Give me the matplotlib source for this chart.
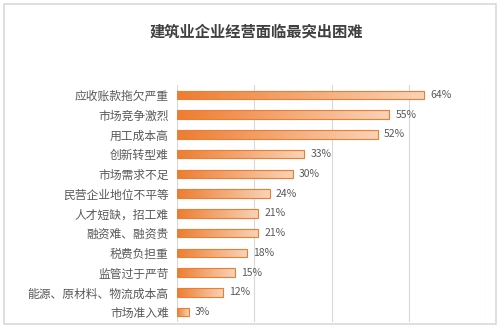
import numpy as np
import matplotlib.pyplot as plt
from matplotlib.colors import LinearSegmentedColormap
from matplotlib.patches import Rectangle

plt.rcParams['font.family'] = ['Noto Sans CJK SC', 'DejaVu Sans']

categories = ["应收账款拖欠严重", "市场竞争激烈", "用工成本高", "创新转型难", "市场需求不足",
              "民营企业地位不平等", "人才短缺，招工难", "融资难、融资贵", "税费负担重",
              "监管过于严苛", "能源、原材料、物流成本高", "市场准入难"]
values = [64, 55, 52, 33, 30, 24, 21, 21, 18, 15, 12, 3]

fig = plt.figure(figsize=(5, 3.28), dpi=100)
fig.patches.append(Rectangle((0.008, 0.012), 0.984, 0.976, transform=fig.transFigure,
                             fill=False, edgecolor='#d9d9d9', linewidth=1.2))

ax = fig.add_axes([177/500, 1 - 322/328, 309/500, 237/328])
y = np.arange(len(categories))
bars = ax.barh(y, values, height=0.42, color='none', edgecolor='#ed7d31',
               linewidth=0.8, zorder=3)
cmap = LinearSegmentedColormap.from_list('og', ['#ed7d31', '#f9d3b8'])
grad = np.linspace(0, 1, 256).reshape(1, -1)
for b in bars:
    x0, y0 = b.get_x(), b.get_y()
    w, h = b.get_width(), b.get_height()
    im = ax.imshow(grad, cmap=cmap, aspect='auto', extent=[x0, x0 + w, y0, y0 + h],
                   zorder=2, interpolation='bicubic')
    im.set_clip_path(b)

for yi, v in zip(y, values):
    ax.text(v + 1.6, yi, f"{v}%", va='center', ha='left', fontsize=7.5, color='#595959')

ax.set_xlim(0, 80)
ax.set_ylim(len(categories) - 0.5, -0.5)
ax.set_xticks([0, 20, 40, 60, 80])
ax.xaxis.grid(True, color='#d9d9d9', linewidth=0.8)
ax.set_axisbelow(True)
ax.tick_params(axis='x', length=0, labelbottom=False)
ax.tick_params(axis='y', length=0, pad=6)
ax.set_yticks(y)
ax.set_yticklabels(categories, fontsize=8.5, color='#595959')
for s in ax.spines.values():
    s.set_visible(False)
ax.axvline(0, color='#d9d9d9', linewidth=0.8, zorder=1)

fig.text(256/500, 1 - 32/328, "建筑业企业经营面临最突出困难", ha='center', va='center',
         fontsize=11, fontweight='bold', color='#404040')

fig.savefig('out.png', dpi=100)
